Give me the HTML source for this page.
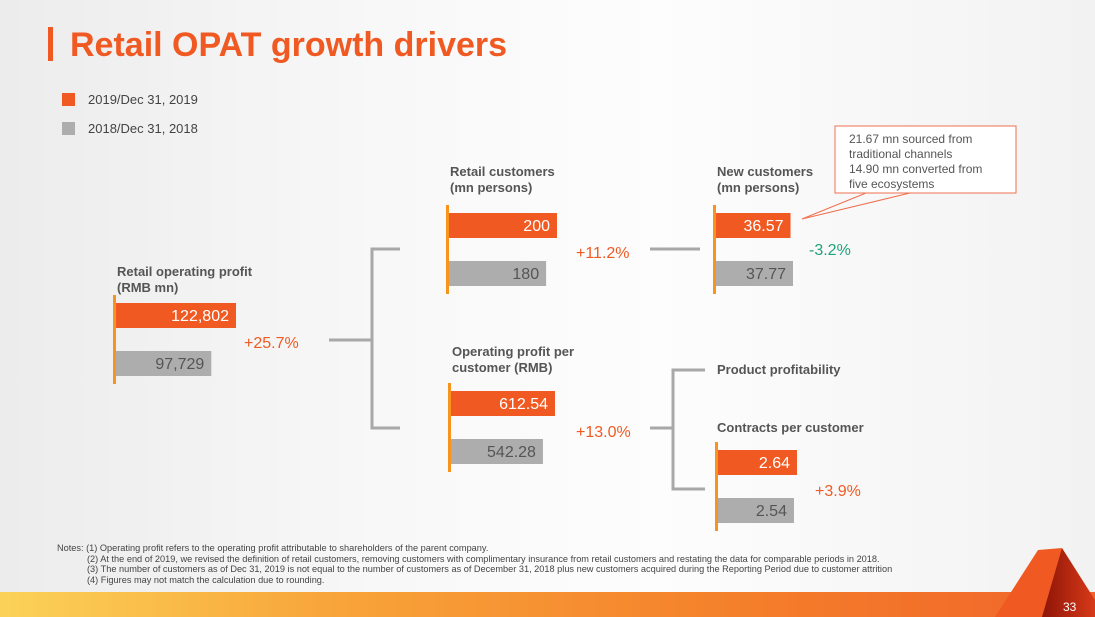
<!DOCTYPE html>
<html><head><meta charset="utf-8">
<style>
html,body{margin:0;padding:0}
body{width:1095px;height:617px;overflow:hidden;background:linear-gradient(90deg,#ececec 0%,#f8f8f8 35%,#fdfdfd 60%,#f2f2f2 100%);font-family:"Liberation Sans",Arial,sans-serif}
svg{position:absolute;left:0;top:0}
text{font-family:"Liberation Sans",Arial,sans-serif}
</style></head><body>
<svg width="1095" height="617" viewBox="0 0 1095 617">
<defs>
<linearGradient id="band" x1="0" x2="1" y1="0" y2="0">
<stop offset="0" stop-color="#fbd257"/><stop offset="0.3" stop-color="#f8a53a"/><stop offset="0.7" stop-color="#f47d2a"/><stop offset="1" stop-color="#f0642a"/></linearGradient>
<linearGradient id="dark" x1="0" x2="1"><stop offset="0" stop-color="#8e1408"/><stop offset="1" stop-color="#d83a18"/></linearGradient>
</defs>
<rect x="0" y="592" width="1095" height="25" fill="url(#band)"/>
<polygon points="995,617 1038,550 1062,548 1050,617" fill="#f05a22"/>
<polygon points="1062,548 1095,600 1095,617 1042,617" fill="url(#dark)"/>
<text x="1063" y="611" font-size="12" fill="#fff">33</text>

<rect x="48" y="27" width="5" height="34" fill="#f05a22"/>
<text x="70" y="56" font-size="34" font-weight="bold" fill="#f05a22">Retail OPAT growth drivers</text>

<rect x="62" y="93" width="13" height="13" fill="#f05a22"/>
<text x="88" y="104" font-size="13" fill="#444">2019/Dec 31, 2019</text>
<rect x="62" y="122" width="13" height="13" fill="#adadad"/>
<text x="88" y="133" font-size="13" fill="#444">2018/Dec 31, 2018</text>

<g stroke="#a8a8a8" stroke-width="3" fill="none">
<path d="M329 340 H372 M400 249 H372 V428 H400"/>
<path d="M650 249 H700"/>
<path d="M650 428 H673 M705 370 H673 V489 H705"/>
</g>

<g id="groups"></g>

<text x="244" y="348" font-size="16" fill="#f05a22">+25.7%</text>
<text x="576" y="258" font-size="16" fill="#f05a22">+11.2%</text>
<text x="809" y="255" font-size="16" fill="#1fa37a">-3.2%</text>
<text x="576" y="437" font-size="16" fill="#f05a22">+13.0%</text>
<text x="815" y="496" font-size="16" fill="#f05a22">+3.9%</text>

<text x="717" y="374" font-size="13" font-weight="bold" fill="#555">Product profitability</text>
<text x="717" y="432" font-size="13" font-weight="bold" fill="#555">Contracts per customer</text>

<g>
<rect x="835" y="126" width="181" height="67" fill="#fff" stroke="#f07050" stroke-width="1"/>
<polyline points="866,193 802,219 910,193" fill="none" stroke="#f07050" stroke-width="1"/>
<text x="849" y="143" font-size="12" fill="#555">21.67 mn sourced from</text>
<text x="849" y="158" font-size="12" fill="#555">traditional channels</text>
<text x="849" y="173" font-size="12" fill="#555">14.90 mn converted from</text>
<text x="849" y="188" font-size="12" fill="#555">five ecosystems</text>
</g>

<g font-size="9.2" fill="#444">
<text x="57" y="551">Notes: (1) Operating profit refers to the operating profit attributable to shareholders of the parent company.</text>
<text x="87" y="562">(2) At the end of 2019, we revised the definition of retail customers, removing customers with complimentary insurance from retail customers and restating the data for comparable periods in 2018.</text>
<text x="87" y="572">(3) The number of customers as of Dec 31, 2019 is not equal to the number of customers as of December 31, 2018 plus new customers acquired during the Reporting Period due to customer attrition</text>
<text x="87" y="583">(4) Figures may not match the calculation due to rounding.</text>
</g>
</svg>
<script>
const groupNames=['operating-profit','retail-customers','new-customers','profit-per-customer','contracts'];
const titles1=['Retail operating profit','Retail customers','New customers','Operating profit per','Contracts per customer'];
const titles2=[' (RMB mn)','(mn persons)','(mn persons)','customer (RMB)',''];
const values2019=[122802,200,36.57,612.54,2.64];
const values2018=[97729,180,37.77,542.28,2.54];
const labels2019=['122,802','200','36.57','612.54','2.64'];
const labels2018=['97,729','180','37.77','542.28','2.54'];
// layout (not data)
const lay=[{x:114,y:303,max:121,ty:276},{x:447,y:213,max:109,ty:176},{x:714,y:213,max:78,ty:176},{x:449,y:391,max:105,ty:356},{x:716,y:450,max:80,ty:null}];
const NS='http://www.w3.org/2000/svg';
const g=document.getElementById('groups');
function mk(t,a){const e=document.createElementNS(NS,t);for(const k in a)e.setAttribute(k,a[k]);return e;}
lay.forEach((L,i)=>{
  const m=Math.max(values2019[i],values2018[i]);
  const w=v=>v/m*L.max;
  const grp=mk('g',{});
  
  
  if(L.ty!==null){
    const t1=mk('text',{x:L.x+3,y:L.ty,'font-size':13,'font-weight':'bold',fill:'#555'});t1.textContent=titles1[i];
    
    
    const t2=mk('text',{x:L.x+3,y:L.ty+16,'font-size':13,'font-weight':'bold',fill:'#555'});t2.textContent=titles2[i];
    
    
    grp.appendChild(t1);grp.appendChild(t2);
  }
  const b1=mk('rect',{x:L.x+1,y:L.y,width:w(values2019[i]),height:25,fill:'#f05a22'});
  
  
  const b2=mk('rect',{x:L.x+1,y:L.y+48,width:w(values2018[i]),height:25,fill:'#adadad'});
  
  
  const ax=mk('rect',{x:L.x-1,y:L.y-8,width:3,height:89,fill:'#f7941d'});
  
  
  const l1=mk('text',{x:L.x+1+w(values2019[i])-7,y:L.y+18,'font-size':16,fill:'#fff','text-anchor':'end'});l1.textContent=labels2019[i];
  
  
  const l2=mk('text',{x:L.x+1+w(values2018[i])-7,y:L.y+66,'font-size':16,fill:'#555','text-anchor':'end'});l2.textContent=labels2018[i];
  
  
  [b1,b2,ax,l1,l2].forEach(e=>grp.appendChild(e));
  g.appendChild(grp);
});
</script>
</body></html>
